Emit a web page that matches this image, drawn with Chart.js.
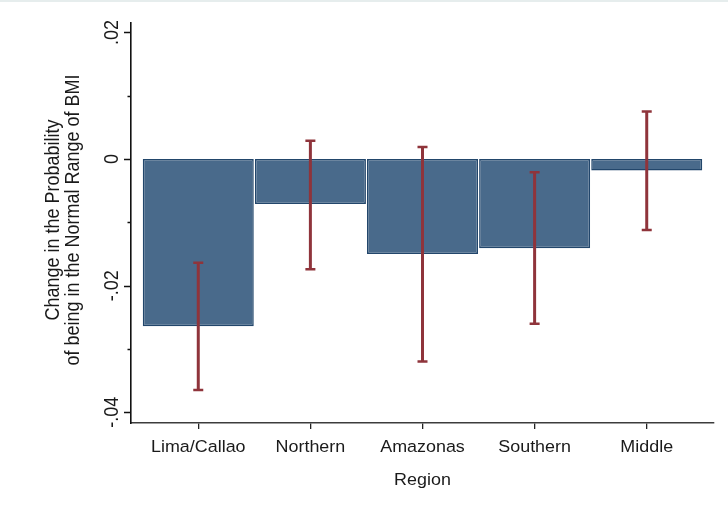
<!DOCTYPE html>
<html>
<head>
<meta charset="utf-8">
<script src="https://cdn.jsdelivr.net/npm/chart.js@4.4.1/dist/chart.umd.min.js"></script>
<style>
  html, body { margin: 0; padding: 0; background: #ffffff; }
  #wrap { width: 728px; height: 529px; }
</style>
</head>
<body>
<div id="wrap"><canvas id="chart" width="728" height="529"></canvas></div>
<script>
// Regional effects on the probability of a normal-range BMI, with confidence intervals
const categories = ['Lima/Callao', 'Northern', 'Amazonas', 'Southern', 'Middle'];
const effects = [-0.0264, -0.0071, -0.0150, -0.0141, -0.0018];
const ciLow = [-0.0365, -0.0174, -0.0320, -0.0260, -0.0112];
const ciHigh = [-0.0164, 0.0029, 0.0019, -0.0021, 0.0075];
const yTickValues = [0.02, 0, -0.02, -0.04];
const yTickLabels = ['.02', '0', '-.02', '-.04'];
const yMinorTicks = [0.01, -0.01, -0.03];
const xTitle = 'Region';
const yTitle = ['Change in the Probability', 'of being in the Normal Range of BMI'];

const FONT = '"Liberation Sans", Arial, sans-serif';
const TEXT_COLOR = '#1a1a1a';
const STRETCH = 1.1;

// Draw text with a slight horizontal widening (screen x direction)
function drawText(ctx, text, x, y, size, rotate) {
  ctx.save();
  ctx.translate(x, y);
  ctx.scale(STRETCH, 1);
  if (rotate) ctx.rotate(-Math.PI / 2);
  ctx.font = size + 'px ' + FONT;
  ctx.fillStyle = TEXT_COLOR;
  ctx.textAlign = 'center';
  ctx.textBaseline = 'alphabetic';
  ctx.fillText(text, 0, 0);
  ctx.restore();
}

const errorBars = {
  id: 'errorBars',
  afterDatasetsDraw(chart) {
    const ctx = chart.ctx;
    const xs = chart.scales.x, ys = chart.scales.y;
    ctx.save();
    ctx.strokeStyle = '#8f343b';
    for (let i = 0; i < categories.length; i++) {
      const x = xs.getPixelForValue(i);
      const yl = ys.getPixelForValue(ciLow[i]);
      const yh = ys.getPixelForValue(ciHigh[i]);
      ctx.lineWidth = 3;
      ctx.beginPath();
      ctx.moveTo(x, yl);
      ctx.lineTo(x, yh);
      ctx.stroke();
      ctx.lineWidth = 2.5;
      ctx.beginPath();
      ctx.moveTo(x - 5, yl); ctx.lineTo(x + 5, yl);
      ctx.moveTo(x - 5, yh); ctx.lineTo(x + 5, yh);
      ctx.stroke();
    }
    ctx.restore();
  }
};

const axisDecor = {
  id: 'axisDecor',
  afterDraw(chart) {
    const ctx = chart.ctx;
    const xs = chart.scales.x, ys = chart.scales.y;
    const left = chart.chartArea.left;
    const bottom = chart.chartArea.bottom;

    // faint frame line along the top
    ctx.save();
    ctx.strokeStyle = '#e6eded';
    ctx.lineWidth = 2;
    ctx.beginPath();
    ctx.moveTo(0, 1); ctx.lineTo(728, 1);
    ctx.stroke();

    // y tick marks
    ctx.strokeStyle = '#111';
    ctx.lineWidth = 1.3;
    ctx.beginPath();
    yTickValues.forEach(v => {
      const y = Math.round(ys.getPixelForValue(v)) + 0.5;
      ctx.moveTo(left - 7, y); ctx.lineTo(left, y);
    });
    yMinorTicks.forEach(v => {
      const y = Math.round(ys.getPixelForValue(v)) + 0.5;
      ctx.moveTo(left - 3.5, y); ctx.lineTo(left, y);
    });
    ctx.stroke();
    ctx.restore();

    // y tick labels, rotated
    yTickValues.forEach((v, k) => {
      drawText(ctx, yTickLabels[k], 118, ys.getPixelForValue(v), 18, true);
    });

    // y axis title, two rotated lines
    const midY = 220;
    drawText(ctx, yTitle[0], 59, midY, 18, true);
    drawText(ctx, yTitle[1], 79, midY, 18, true);

    // x category labels
    for (let i = 0; i < categories.length; i++) {
      drawText(ctx, categories[i], xs.getPixelForValue(i), bottom + 29, 16.3, false);
    }
    // x axis title
    drawText(ctx, xTitle, (chart.chartArea.left + chart.chartArea.right) / 2, bottom + 62, 16.3, false);
  }
};

new Chart(document.getElementById('chart'), {
  type: 'bar',
  data: {
    datasets: [{
      data: effects.map((v, i) => ({ x: i, y: v })),
      backgroundColor: '#496a8b',
      borderColor: '#22466b',
      borderWidth: 1.5,
      borderSkipped: false,
      barPercentage: 1,
      categoryPercentage: 0.99
    }]
  },
  options: {
    responsive: false,
    animation: false,
    devicePixelRatio: 1,
    layout: { padding: { left: 0, right: 14, top: 23, bottom: 0 } },
    plugins: { legend: { display: false }, tooltip: { enabled: false } },
    scales: {
      x: {
        type: 'linear',
        offset: false,
        min: -0.6,
        max: 4.6,
        afterBuildTicks(scale) {
          scale.ticks = categories.map((c, i) => ({ value: i }));
        },
        afterFit(scale) { scale.height = 106; },
        ticks: { display: false },
        grid: {
          display: true,
          offset: false,
          drawOnChartArea: false,
          drawTicks: true,
          tickLength: 6,
          color: '#222',
          lineWidth: 1.3
        },
        border: { display: true, color: '#3c3c3c', width: 1.6 }
      },
      y: {
        min: -0.0417,
        max: 0.0215,
        afterFit(scale) { scale.width = 131; },
        ticks: { display: false },
        grid: { display: false },
        border: { display: true, color: '#111', width: 1.6 }
      }
    }
  },
  plugins: [errorBars, axisDecor]
});
</script>
</body>
</html>
